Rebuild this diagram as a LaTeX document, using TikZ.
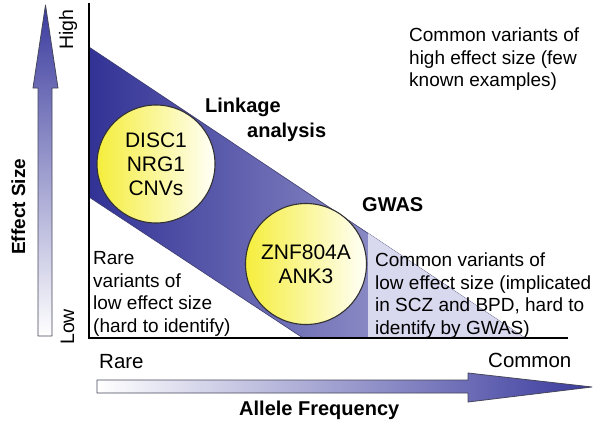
\documentclass[tikz,border=0pt]{standalone}
\usepackage{fontspec}
\setmainfont{Liberation Sans}
\definecolor{bandD}{RGB}{50,50,150}
\definecolor{bandL}{RGB}{185,185,222}
\definecolor{bandE}{RGB}{60,60,110}
\definecolor{triL}{RGB}{216,216,238}
\definecolor{arrD}{RGB}{58,58,158}
\definecolor{arrOut}{RGB}{70,70,90}
\definecolor{circY}{RGB}{245,238,60}
\definecolor{circM}{RGB}{252,250,200}
\definecolor{circW}{RGB}{255,255,248}
\definecolor{outl}{RGB}{50,50,50}
\begin{document}
\begin{tikzpicture}[x=1pt,y=-1pt,
  txt/.style={font=\fontsize{19}{22.5}\selectfont, inner sep=0pt, align=left},
  axlab/.style={font=\fontsize{20.5}{24}\selectfont, inner sep=0pt},
  boldlab/.style={font=\fontsize{20}{24}\selectfont\bfseries, inner sep=0pt},
  gene/.style={circle, draw=outl, line width=1.1pt, left color=circY, middle color=circM, right color=circW,
    align=center, font=\fontsize{21}{24}\selectfont, inner sep=0pt},
  axisline/.style={line width=2.6pt, line join=miter},
  arrowshape/.style={draw=arrOut, line width=0.8pt, line join=round}]
\useasboundingbox (0,0) rectangle (600,423);
\fill[white] (0,0) rectangle (600,423);

% band of study designs
\coordinate (bandA) at (89,47);
\coordinate (bandB) at (525,338);
\coordinate (bandC) at (303,338);
\coordinate (bandD) at (89,197);
\shade[left color=bandD, right color=bandL, draw=bandE, line width=0.6pt]
  (bandA) -- (bandB) -- (bandC) -- (bandD) -- cycle;
\coordinate (triA) at (368,233.2);
\coordinate (triB) at (368,338);
\fill[triL] (triA) -- (bandB) -- (triB) -- cycle;

% axes
\coordinate (ytop) at (89,3);
\coordinate (origin) at (89,338);
\coordinate (xend) at (568,338);
\draw[axisline] (ytop) -- (origin) -- (xend);

% big arrows
\shade[top color=arrD, bottom color=white, arrowshape]
  (38,336) -- (38,88) -- (33,88) -- (45.5,5) -- (58,88) -- (52,88) -- (52,336) -- cycle;
\shade[left color=white, right color=arrD, arrowshape]
  (97,380) -- (468,380) -- (468,373) -- (592,387) -- (468,402) -- (468,393) -- (97,393) -- cycle;

% circles
\node[gene, minimum size=118pt] (c1) at (156,164) {DISC1\\NRG1\\CNVs};
\node[gene, minimum size=121pt] (c2) at (306,264) {ZNF804A\\ANK3};

% texts
\node[txt, anchor=north west] (rare) at (93,251.5) {Rare\\variants of\\low effect size\\(hard to identify)};
\node[txt, anchor=north west] (comlow) at (375,253) {Common variants of\\low effect size (implicated\\in SCZ and BPD, hard to\\identify by GWAS)};
\node[txt, anchor=north west] (comhigh) at (409,28) {Common variants of\\high effect size (few\\known examples)};

\node[axlab, anchor=base west] (rareax) at (99,368) {Rare};
\node[axlab, anchor=base west] (commonax) at (488,367) {Common};
\node[txt, font=\fontsize{19.5}{22}\selectfont, rotate=90, anchor=base west] (high) at (73,50) {High};
\node[txt, font=\fontsize{19.5}{22}\selectfont, rotate=90, anchor=base west] (low) at (74,345) {Low};
\node[boldlab, font=\fontsize{19}{22}\selectfont\bfseries, rotate=90, anchor=base west] (effect) at (25,255) {Effect Size};
\node[boldlab, anchor=base west] (allele) at (239,415) {Allele Frequency};
\node[boldlab, anchor=base west] (link1) at (205,112) {Linkage};
\node[boldlab, anchor=base west] (link2) at (247,137) {analysis};
\node[boldlab, anchor=base west] (gwas) at (362,211.5) {GWAS};
\end{tikzpicture}
\end{document}
